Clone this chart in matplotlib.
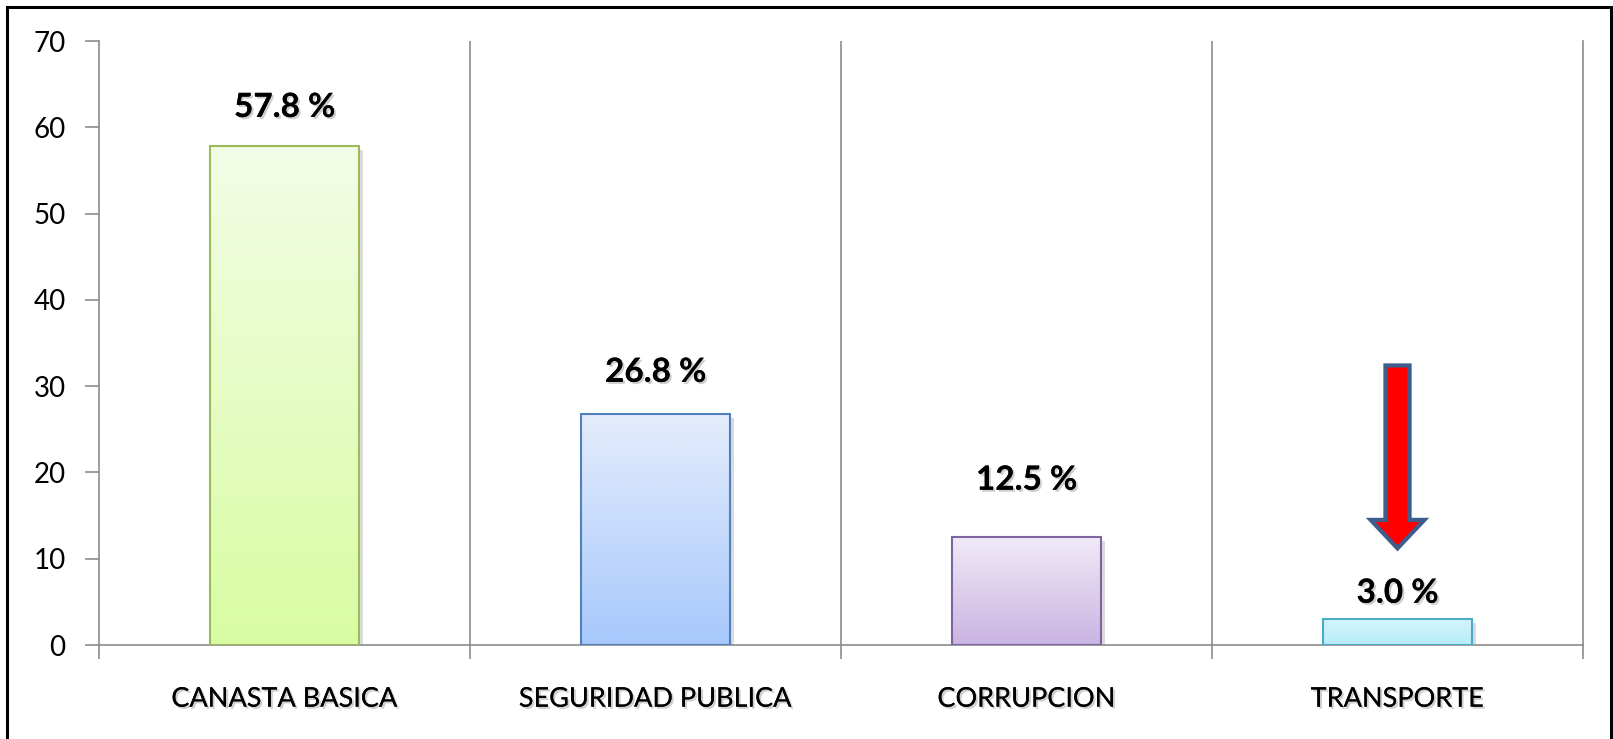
import numpy as np
import matplotlib
matplotlib.use('Agg')
import matplotlib.pyplot as plt
import matplotlib.patheffects as pe
from matplotlib.colors import LinearSegmentedColormap
from matplotlib.patches import Rectangle, FancyArrow

categories = ['CANASTA BASICA', 'SEGURIDAD PUBLICA', 'CORRUPCION', 'TRANSPORTE']
values = [57.8, 26.8, 12.5, 3.0]
value_labels = ['57.8 %', '26.8 %', '12.5 %', '3.0 %']
label_y = [62.3, 31.6, 19.1, 6.0]   # labels were placed by hand in the original
y_ticks = [0, 10, 20, 30, 40, 50, 60, 70]

# gradient (top, bottom) and edge colours per bar
grad_top = ['#f3fde6', '#e4edfc', '#f0eaf7', '#d6f5fc']
grad_bottom = ['#d8fca2', '#a8c8fc', '#cab4e2', '#b6ebfa']
edges = ['#9bbb59', '#4f81bd', '#8064a2', '#4bacc6']

plt.rcParams['font.family'] = ['Lato', 'DejaVu Sans']

fig = plt.figure(figsize=(16.13, 7.39), dpi=100)
ax = fig.add_axes([99/1613, 1 - 645/739, (1583-99)/1613, (645-41)/739])

x = np.arange(len(categories))


def text_shadow():
    return [pe.withSimplePatchShadow(offset=(1.5, -1.5), shadow_rgbFace='#777777', alpha=0.35), pe.Normal()]


bars = ax.bar(x, values, width=0.4, color='none', edgecolor=edges, linewidth=1.5, zorder=3)
for i, b in enumerate(bars):
    cmap = LinearSegmentedColormap.from_list('g%d' % i, [grad_bottom[i], grad_top[i]])
    x0, y0 = b.get_x(), b.get_y()
    w, h = b.get_width(), b.get_height()
    grad = np.linspace(0, 1, 256).reshape(-1, 1)
    im = ax.imshow(grad, cmap=cmap, origin='lower', aspect='auto',
                   extent=[x0, x0 + w, y0, y0 + h], zorder=2)
    im.set_clip_path(b)
    sh = Rectangle((x0, y0), w, h, facecolor='none', edgecolor='none', zorder=1)
    sh.set_path_effects([pe.withSimplePatchShadow(offset=(3, -3), shadow_rgbFace='#999999', alpha=0.35)])
    ax.add_patch(sh)
    ax.text(b.get_x() + w / 2, label_y[i], value_labels[i], ha='center', va='center',
            fontsize=24, fontweight='bold', color='black', path_effects=text_shadow(), zorder=5)

ax.set_xlim(-0.5, len(categories) - 0.5)
ax.set_ylim(0, 70)

# arrow pointing down at the last bar
arr = FancyArrow(3, 32.4, 0, -21.2, width=0.065, head_width=0.145, head_length=3.3,
                 length_includes_head=True, facecolor='#ff0000', edgecolor='#3d5e8c',
                 linewidth=3, zorder=6)
ax.add_patch(arr)

# category boundary gridlines
for xb in np.arange(0.5, len(categories) - 0.5):
    ax.axvline(xb, color='#8c8c8c', linewidth=1.2, zorder=0)

ax.set_yticks(y_ticks)
ax.set_yticklabels([str(t) for t in y_ticks], fontsize=20)
ax.set_xticks(x)
ax.set_xticklabels(categories, fontsize=19.5)
for t in ax.get_xticklabels():
    t.set_path_effects(text_shadow())
ax.tick_params(axis='x', length=0, pad=30)
ax.set_xticks(np.arange(-0.5, len(categories)), minor=True)
ax.tick_params(axis='x', which='minor', length=10, color='#8c8c8c', width=1.2)
ax.tick_params(axis='y', length=10, color='#8c8c8c', width=1.2, pad=14)

ax.spines['top'].set_visible(False)
for s in ['left', 'right', 'bottom']:
    ax.spines[s].set_color('#8c8c8c')
    ax.spines[s].set_linewidth(1.2)

# outer frame
fig.patches.append(Rectangle((7/1613, -0.05), 1604/1613, 1.05 - 7/739, transform=fig.transFigure,
                             facecolor='none', edgecolor='black', linewidth=2.2))

fig.savefig('out.png', dpi=100)
